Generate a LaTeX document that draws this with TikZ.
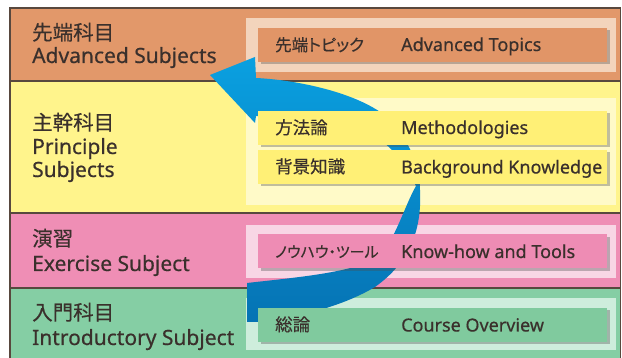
\documentclass[tikz,border=0pt]{standalone}
\usepackage{fontspec}
\setmainfont[FakeBold=0.5]{Noto Sans}
\newfontfamily\jp[RawFeature=+palt,FakeBold=0.4]{Noto Sans CJK JP}
\usetikzlibrary{shadows}
\definecolor{orBand}{RGB}{226,152,106}
\definecolor{orPanel}{RGB}{243,212,188}
\definecolor{orBox}{RGB}{225,149,103}
\definecolor{yeBand}{RGB}{255,244,140}
\definecolor{yePanel}{RGB}{255,250,200}
\definecolor{yeBox}{RGB}{255,240,118}
\definecolor{piBand}{RGB}{239,142,181}
\definecolor{piPanel}{RGB}{248,214,229}
\definecolor{piBox}{RGB}{238,140,180}
\definecolor{grBand}{RGB}{133,206,164}
\definecolor{grPanel}{RGB}{206,237,220}
\definecolor{grBox}{RGB}{128,202,158}
\definecolor{arTop}{RGB}{10,160,224}
\definecolor{arBot}{RGB}{5,115,180}
\definecolor{lineC}{RGB}{88,72,62}
\definecolor{txtC}{RGB}{58,48,44}
\begin{document}
\begin{tikzpicture}[x=1pt,y=-1pt,
  bandline/.style={draw=lineC,line width=1.3pt},
  boxnode/.style={minimum width=349pt,minimum height=34pt,inner sep=0pt,
    drop shadow={shadow xshift=2.5pt,shadow yshift=-2.5pt,opacity=0.35,fill=black!70}},
  lefttxt/.style={anchor=base west,inner sep=0pt,text=txtC,font=\fontsize{21}{24}\selectfont},
  leftjp/.style={anchor=base west,inner sep=0pt,text=txtC,font=\jp\fontsize{20.5}{24}\selectfont},
  boxtxt/.style={anchor=base west,inner sep=0pt,text=txtC,font=\fontsize{18}{22}\selectfont},
  boxjp/.style={anchor=base west,inner sep=0pt,text=txtC,font=\jp\fontsize{17.5}{22}\selectfont},
  boxkana/.style={anchor=base west,inner sep=0pt,text=txtC,font=\jp\fontsize{15}{22}\selectfont}]
\useasboundingbox (0,0) rectangle (622,358);
\clip (0,0) rectangle (622,358);
\fill[white] (0,0) rectangle (622,358);
% bands
\fill[orBand] (10,8) rectangle (621,81);
\fill[yeBand] (10,81) rectangle (621,213);
\fill[piBand] (10,213) rectangle (621,288);
\fill[grBand] (10,288) rectangle (621,365);
\draw[bandline] (10,365) -- (10,8) -- (620.5,8) -- (620.5,365);
\draw[bandline] (10,81) -- (620.5,81);
\draw[bandline] (10,213) -- (620.5,213);
\draw[bandline] (10,288) -- (620.5,288);
% panels
\fill[orPanel] (246,18) rectangle (616,72);
\fill[yePanel] (246,98) rectangle (616,205);
\fill[piPanel] (246,225) rectangle (616,278);
\fill[grPanel] (246,298) rectangle (616,350);
% arrow
\shade[top color=arTop,bottom color=arBot]
  (210,75) -- (255,57) -- (256,78)
  .. controls (300,80) and (370,95) .. (395,125)
  .. controls (412,148) and (420,168) .. (420,190)
  .. controls (422,230) and (410,262) .. (375,287)
  .. controls (338,309) and (290,318) .. (262,322)
  -- (247,322) -- (247,283)
  .. controls (300,277) and (360,272) .. (380,255)
  .. controls (395,240) and (405,205) .. (416,186)
  .. controls (405,165) and (395,150) .. (380,140)
  .. controls (350,120) and (300,117) .. (256,116)
  -- (255,123) -- cycle;
% boxes
\node[boxnode,fill=orBox] (bAdv) at (432.5,45) {};
\node[boxnode,fill=yeBox] (bMeth) at (432.5,128) {};
\node[boxnode,fill=yeBox] (bBack) at (432.5,167) {};
\node[boxnode,fill=piBox] (bKnow) at (432.5,251.5) {};
\node[boxnode,fill=grBox] (bCour) at (432.5,325) {};
% box texts
\node[boxkana,font=\jp\fontsize{16.5}{22}\selectfont] (jAdv) at (275,51) {先端トピック};
\node[boxtxt] (eAdv) at (401,51) {Advanced Topics};
\node[boxjp] (jMeth) at (275,134) {方法論};
\node[boxtxt] (eMeth) at (401,134) {Methodologies};
\node[boxjp] (jBack) at (275,173) {背景知識};
\node[boxtxt] (eBack) at (401,173.5) {Background Knowledge};
\node[boxkana] (jKnow) at (275,257.5) {ノウハウ・ツール};
\node[boxtxt] (eKnow) at (401,258) {Know-how and Tools};
\node[boxjp] (jCour) at (275,331) {総論};
\node[boxtxt] (eCour) at (401,331.5) {Course Overview};
% left labels
\node[leftjp] (lAdvJ) at (32,40) {先端科目};
\node[lefttxt] (lAdvE) at (32,63) {Advanced Subjects};
\node[leftjp] (lPriJ) at (32,130) {主幹科目};
\node[lefttxt] (lPriE) at (32,154) {Principle};
\node[lefttxt] (lPriE2) at (32,177) {Subjects};
\node[leftjp] (lExJ) at (32,246) {演習};
\node[lefttxt] (lExE) at (32,271) {Exercise Subject};
\node[leftjp] (lInJ) at (32,320) {入門科目};
\node[lefttxt] (lInE) at (32,345) {Introductory Subject};
\end{tikzpicture}
\end{document}
